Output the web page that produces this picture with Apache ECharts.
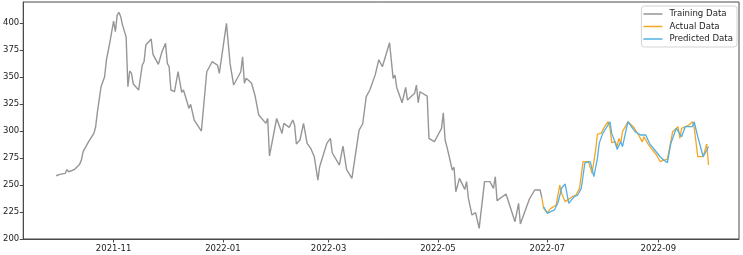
<!DOCTYPE html>
<html><head><meta charset="utf-8">
<script src="https://cdn.jsdelivr.net/npm/echarts@6/dist/echarts.min.js"></script>
<style>html,body{margin:0;padding:0;background:#fff}#c{width:743px;height:255px}</style>
</head><body><div id="c"></div>
<script>
const trainDates = ['2021-09-30','2021-10-02','2021-10-05','2021-10-06','2021-10-07','2021-10-10','2021-10-13','2021-10-14','2021-10-15','2021-10-17','2021-10-18','2021-10-19','2021-10-21','2021-10-22','2021-10-23','2021-10-25','2021-10-26','2021-10-27','2021-10-28','2021-10-30',
'2021-11-01','2021-11-02','2021-11-03','2021-11-04','2021-11-05','2021-11-06','2021-11-08','2021-11-09','2021-11-10','2021-11-11','2021-11-12','2021-11-15','2021-11-17','2021-11-18','2021-11-19','2021-11-22','2021-11-23','2021-11-24','2021-11-26','2021-11-28','2021-11-30',
'2021-12-01','2021-12-02','2021-12-03','2021-12-05','2021-12-07','2021-12-08','2021-12-09','2021-12-10','2021-12-12','2021-12-13','2021-12-14','2021-12-16','2021-12-17','2021-12-20','2021-12-23','2021-12-26','2021-12-29','2021-12-30',
'2022-01-03','2022-01-05','2022-01-07','2022-01-11','2022-01-12','2022-01-13','2022-01-14','2022-01-17','2022-01-19','2022-01-20','2022-01-21','2022-01-22','2022-01-25','2022-01-26','2022-01-27','2022-01-31',
'2022-02-01','2022-02-03','2022-02-04','2022-02-07','2022-02-09','2022-02-10','2022-02-11','2022-02-13','2022-02-15','2022-02-16','2022-02-17','2022-02-19','2022-02-21','2022-02-23','2022-02-24','2022-02-28',
'2022-03-01','2022-03-02','2022-03-03','2022-03-04','2022-03-07','2022-03-09','2022-03-11','2022-03-14','2022-03-18','2022-03-20','2022-03-22','2022-03-24','2022-03-25','2022-03-27','2022-03-29','2022-03-31',
'2022-04-04','2022-04-06','2022-04-07','2022-04-08','2022-04-11','2022-04-13','2022-04-14','2022-04-18','2022-04-19','2022-04-20','2022-04-21','2022-04-25','2022-04-26','2022-04-27','2022-04-29',
'2022-05-03','2022-05-04','2022-05-05','2022-05-06','2022-05-09','2022-05-10','2022-05-11','2022-05-13','2022-05-16','2022-05-17','2022-05-18','2022-05-19','2022-05-20','2022-05-22','2022-05-24','2022-05-27','2022-05-30',
'2022-06-01','2022-06-02','2022-06-03','2022-06-08','2022-06-13','2022-06-15','2022-06-16','2022-06-21','2022-06-22','2022-06-24','2022-06-27','2022-06-28'];
const trainValues = [258.6,259.9,260.8,264.2,262.3,264.2,269.1,272.8,280.9,287,290,288.9,297.8,304,317.9,341,340.1,350.3,365.7,382.7,
401.9,392,407.4,409.9,405.8,398.1,387.3,341,355.6,353.4,343.5,338,361.1,364.2,379.6,385.2,371,371.9,361.7,373.4,381.2,
362.6,359.5,338,336.4,355,355,335.8,338,327.1,321,324.7,310.2,311.1,300,354.9,364.2,361.1,353.4,
399.7,362.6,342.6,354.9,368.8,344.2,348.8,344.2,332.4,331.2,314.8,313.3,307.1,311.7,276.9,311.7,
310.2,297.8,307.1,303.4,310.2,305.6,288,291.7,307.1,307.1,288.6,284,276.2,254.6,266.9,288.6,
289.2,293.2,279.9,278.7,268.5,286.1,264.5,256.2,300.9,306.5,331.8,338,338,352,366,359.5,
381.8,348.8,351.9,340.4,326.2,340.4,328.7,334.9,342.6,326.2,336.4,332.4,293.2,294.2,290.1,
302.5,316.9,291.7,285.5,263.9,266.4,243.8,256.2,246,253.1,237.7,236.1,222.2,224.4,209.9,253.1,253.1,
246.9,257.7,235.5,241.7,216,233,213.9,236.8,235.5,245.4,245.4,238];

const actualDates = ['2022-06-28','2022-06-29','2022-07-01','2022-07-03','2022-07-06','2022-07-08','2022-07-09','2022-07-11','2022-07-12','2022-07-15','2022-07-17','2022-07-19','2022-07-21','2022-07-24','2022-07-26','2022-07-28','2022-07-29','2022-07-31',
'2022-08-02','2022-08-04','2022-08-05','2022-08-06','2022-08-08','2022-08-09','2022-08-10','2022-08-11','2022-08-12','2022-08-15','2022-08-18','2022-08-21','2022-08-23','2022-08-24','2022-08-26','2022-08-28','2022-08-31',
'2022-09-02','2022-09-04','2022-09-06','2022-09-09','2022-09-12','2022-09-13','2022-09-14','2022-09-18','2022-09-20','2022-09-21','2022-09-23','2022-09-26','2022-09-28','2022-09-29'];
const actualValues = [238,228.4,224.4,228.4,231.5,250,242.3,234.6,233,239.2,240.7,246.9,271.6,271.6,260.8,282.4,297.2,297.8,
304,308.6,302.5,289.2,290,285.5,293.2,288.6,299.4,308.6,304,296.3,290,294.7,288.6,284,277.8,
271.6,273.1,273.8,299.4,304,293.2,302.5,305.6,308.6,303.4,276.2,276.2,288,268.5];

const predDates = ['2022-06-29','2022-07-01','2022-07-05','2022-07-07','2022-07-09','2022-07-11','2022-07-13','2022-07-16','2022-07-18','2022-07-20','2022-07-22','2022-07-25','2022-07-27','2022-07-29','2022-07-30',
'2022-08-01','2022-08-05','2022-08-06','2022-08-08','2022-08-09','2022-08-11','2022-08-12','2022-08-15','2022-08-19','2022-08-22','2022-08-25','2022-08-27','2022-08-30',
'2022-09-02','2022-09-04','2022-09-06','2022-09-08','2022-09-11','2022-09-12','2022-09-14','2022-09-16','2022-09-20','2022-09-21','2022-09-23','2022-09-26','2022-09-29'];
const predValues = [229.9,223.8,226.9,233.6,247,250.9,233,239.2,240.7,246.9,270.6,271.6,257.7,274.7,288.6,
297.8,308.6,297.8,288.6,283,290,285.5,308.6,299.4,296.3,296.3,288.6,282.4,
276.2,273.1,270.6,288.6,302.5,304,294.7,304,304,308.6,294.7,276.2,285.5];

const xTickLabels = ['2021-11','2022-01','2022-03','2022-05','2022-07','2022-09'];
const yTickValues = [200,225,250,275,300,325,350,375,400];
const seriesNames = ['Training Data','Actual Data','Predicted Data'];

function ts(s){ const p = s.split('-').map(Number); return Date.UTC(p[0], p[1]-1, p[2] || 1); }
const xTickValues = xTickLabels.map(ts);
const pairs = (d, v) => d.map((x, i) => [ts(x), v[i]]);

const chart = echarts.init(document.getElementById('c'), null, {renderer:'canvas'});
const FONT = 'DejaVu Sans';
const AX = '#4a4a4a';
chart.setOption({
  animation:false,
  grid:{left:23,right:4,top:2,bottom:16,show:true,borderColor:AX,borderWidth:1,backgroundColor:'transparent'},
  xAxis:{
    type:'value',
    min: ts('2021-09-11') + 14*3600e3,
    max: ts('2022-10-16'),
    splitLine:{show:false},
    axisLine:{show:true,onZero:false,lineStyle:{color:AX,width:1}},
    axisTick:{show:true,length:3.5,inside:false,customValues:xTickValues,lineStyle:{color:AX}},
    axisLabel:{customValues:xTickValues,
      formatter:function(v){ const i = xTickValues.indexOf(v); return i>=0 ? xTickLabels[i] : ''; },
      fontSize:8.5,color:'#222',fontFamily:FONT,margin:5,hideOverlap:false}
  },
  yAxis:{
    type:'value',min:200,max:419.5,
    splitLine:{show:false},
    axisLine:{show:true,onZero:false,lineStyle:{color:AX,width:1}},
    axisTick:{show:true,length:3.5,inside:false,customValues:yTickValues,lineStyle:{color:AX}},
    axisLabel:{customValues:yTickValues,fontSize:8.5,color:'#222',fontFamily:FONT,margin:4}
  },
  legend:{
    orient:'vertical',right:6,top:6,align:'left',
    backgroundColor:'#fff',borderColor:'#d3d3d3',borderWidth:1,borderRadius:3,
    padding:[3,4,3,2],itemGap:2.5,itemWidth:19,itemHeight:1.5,icon:'rect',
    textStyle:{fontSize:8.6,fontFamily:FONT,color:'#222',lineHeight:10,padding:[0,0,0,2]},
    data:seriesNames
  },
  series:[
    {name:seriesNames[0],type:'line',data:pairs(trainDates,trainValues),showSymbol:false,symbol:'none',color:'#969696',lineStyle:{width:1.4,color:'#969696'},emphasis:{disabled:true}},
    {name:seriesNames[1],type:'line',data:pairs(actualDates,actualValues),showSymbol:false,symbol:'none',color:'#f5a623',lineStyle:{width:1.3,color:'#f5a623'},emphasis:{disabled:true}},
    {name:seriesNames[2],type:'line',data:pairs(predDates,predValues),showSymbol:false,symbol:'none',color:'#52b0e4',lineStyle:{width:1.3,color:'#52b0e4'},emphasis:{disabled:true}}
  ]
});
</script></body></html>
